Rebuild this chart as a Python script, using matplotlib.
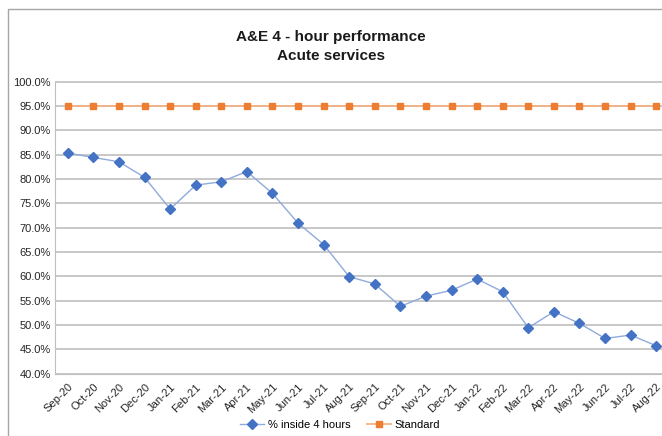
import numpy as np
import matplotlib.pyplot as plt
from matplotlib.patches import Rectangle
from matplotlib.ticker import PercentFormatter

plt.rcParams['font.family'] = ['Liberation Sans', 'DejaVu Sans']

months = ["Sep-20", "Oct-20", "Nov-20", "Dec-20", "Jan-21", "Feb-21", "Mar-21", "Apr-21",
          "May-21", "Jun-21", "Jul-21", "Aug-21", "Sep-21", "Oct-21", "Nov-21", "Dec-21",
          "Jan-22", "Feb-22", "Mar-22", "Apr-22", "May-22", "Jun-22", "Jul-22", "Aug-22"]
inside_4h = [85.3, 84.4, 83.5, 80.3, 73.8, 78.7, 79.4, 81.5, 77.0, 70.9, 66.5, 59.9,
             58.4, 53.8, 55.9, 57.1, 59.4, 56.8, 49.4, 52.7, 50.3, 47.2, 47.9, 45.7]
standard = [95.0] * len(months)

W, H = 662, 436
fig = plt.figure(figsize=(W / 100, H / 100), dpi=100)

# chart border (cropped on right and bottom in the reference)
fig.patches.append(Rectangle((8 / W, -0.01), 1.0, 1 - 9.5 / H + 0.01, transform=fig.transFigure,
                             fill=False, edgecolor='#a6a6a6', linewidth=1))

ax = fig.add_axes([55 / W, 1 - 373.5 / H, 614 / W, 292 / H])
x = np.arange(len(months))

ax.plot(x, inside_4h, color='#8faadc', linewidth=1, marker='D', markersize=5,
        markerfacecolor='#4472c4', markeredgecolor='#4472c4', label='% inside 4 hours', zorder=3)
ax.plot(x, standard, color='#f4b183', linewidth=1.3, marker='s', markersize=4.5,
        markerfacecolor='#ed7d31', markeredgecolor='#ed7d31', label='Standard', zorder=3)

ax.set_xlim(-0.5, len(months) - 0.5)
ax.set_ylim(40, 100)
ax.set_yticks(np.arange(40, 100.1, 5))
ax.yaxis.set_major_formatter(PercentFormatter(decimals=1))
ax.set_xticks(x)
ax.set_xticklabels(months, rotation=45, ha='right', rotation_mode='anchor')
ax.tick_params(axis='both', labelsize=8, colors='#262626', length=0)
ax.tick_params(axis='x', pad=6)
ax.tick_params(axis='y', pad=3)

ax.grid(axis='y', color='#bfbfbf', linewidth=1.2)
ax.set_axisbelow(True)
for side in ['top', 'right']:
    ax.spines[side].set_visible(False)
ax.spines['left'].set_color('#bfbfbf')
ax.spines['bottom'].set_color('#bfbfbf')

fig.text(0.5, 1 - 37 / H, "A&E 4 - hour performance", ha='center', va='center',
         fontsize=11, fontweight='bold', color='#1a1a1a')
fig.text(0.5, 1 - 56 / H, "Acute services", ha='center', va='center',
         fontsize=11, fontweight='bold', color='#1a1a1a')

fig.legend(loc='center', bbox_to_anchor=(340 / W, 1 - 425 / H), ncol=2, frameon=False,
           fontsize=8, handlelength=2.2, columnspacing=1.5, handletextpad=0.3)

fig.savefig('out.png', dpi=100)
